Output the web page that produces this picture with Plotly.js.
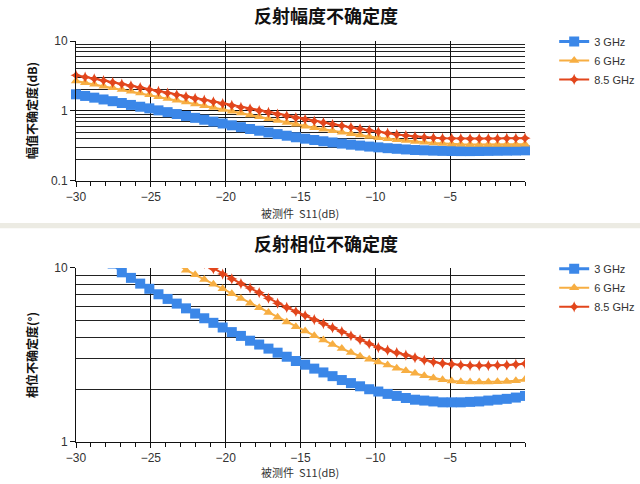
<!DOCTYPE html>
<html>
<head>
<meta charset="utf-8">
<script src="https://cdn.plot.ly/plotly-3.0.1.min.js"></script>
<style>html,body{margin:0;padding:0;background:#fff;}#chart{width:640px;height:484px;}</style>
</head>
<body>
<div id="chart"></div>
<script>
// S11 of the device under test (dB)
const s11 = [-30, -29.39, -28.78, -28.16, -27.55, -26.94, -26.33, -25.71, -25.10, -24.49,
  -23.88, -23.27, -22.65, -22.04, -21.43, -20.82, -20.20, -19.59, -18.98, -18.37,
  -17.76, -17.14, -16.53, -15.92, -15.31, -14.69, -14.08, -13.47, -12.86, -12.24,
  -11.63, -11.02, -10.41, -9.80, -9.18, -8.57, -7.96, -7.35, -6.73, -6.12,
  -5.51, -4.90, -4.29, -3.67, -3.06, -2.45, -1.84, -1.22, -0.61, 0];

const seriesNames = ['3 GHz', '6 GHz', '8.5 GHz'];

// Reflection magnitude uncertainty (dB)
const mag3 = [1.73, 1.64, 1.55, 1.46, 1.38, 1.30, 1.22, 1.15, 1.09, 1.02,
  0.962, 0.904, 0.849, 0.798, 0.750, 0.705, 0.662, 0.624, 0.587, 0.553,
  0.522, 0.493, 0.467, 0.443, 0.421, 0.402, 0.385, 0.369, 0.355, 0.342,
  0.330, 0.320, 0.310, 0.302, 0.294, 0.288, 0.282, 0.277, 0.274, 0.271,
  0.269, 0.268, 0.267, 0.267, 0.268, 0.269, 0.270, 0.271, 0.272, 0.274];
const mag6 = [2.69, 2.54, 2.40, 2.26, 2.14, 2.02, 1.91, 1.80, 1.70, 1.60,
  1.51, 1.42, 1.34, 1.26, 1.19, 1.12, 1.05, 0.993, 0.933, 0.877,
  0.824, 0.774, 0.728, 0.685, 0.646, 0.605, 0.575, 0.547, 0.520, 0.495,
  0.473, 0.452, 0.433, 0.415, 0.401, 0.388, 0.377, 0.366, 0.357, 0.349,
  0.342, 0.337, 0.334, 0.332, 0.331, 0.331, 0.332, 0.333, 0.333, 0.334];
const mag85 = [3.24, 3.06, 2.88, 2.72, 2.56, 2.42, 2.28, 2.15, 2.02, 1.91,
  1.80, 1.70, 1.60, 1.51, 1.43, 1.35, 1.27, 1.20, 1.13, 1.07,
  1.01, 0.953, 0.900, 0.849, 0.802, 0.759, 0.718, 0.681, 0.646, 0.614,
  0.583, 0.555, 0.528, 0.504, 0.481, 0.461, 0.445, 0.432, 0.421, 0.413,
  0.407, 0.405, 0.403, 0.402, 0.402, 0.403, 0.404, 0.406, 0.407, 0.409];

// Reflection phase uncertainty (degrees)
const ph3 = [14.5, 13.3, 12.3, 11.4, 10.6, 9.44, 8.77, 8.13, 7.59, 7.06,
  6.64, 6.24, 5.86, 5.47, 5.14, 4.84, 4.55, 4.28, 4.07, 3.82,
  3.63, 3.44, 3.26, 3.09, 2.92, 2.78, 2.64, 2.51, 2.39, 2.27,
  2.18, 2.09, 2.01, 1.95, 1.89, 1.84, 1.79, 1.75, 1.73, 1.71,
  1.69, 1.69, 1.69, 1.70, 1.71, 1.73, 1.75, 1.77, 1.80, 1.84];
const ph6 = [22.4, 20.9, 19.5, 18.2, 17.0, 15.8, 14.8, 13.8, 12.9, 12.0,
  11.2, 10.5, 9.70, 9.14, 8.59, 8.07, 7.59, 7.11, 6.67, 6.28,
  5.90, 5.55, 5.21, 4.89, 4.60, 4.34, 4.08, 3.85, 3.63, 3.44,
  3.27, 3.11, 2.99, 2.88, 2.77, 2.65, 2.57, 2.48, 2.40, 2.33,
  2.28, 2.24, 2.22, 2.21, 2.21, 2.21, 2.22, 2.23, 2.25, 2.29];
const ph85 = [27.9, 26.0, 24.3, 22.6, 21.1, 19.7, 18.4, 17.2, 16.0, 15.0,
  14.0, 13.0, 12.2, 11.4, 10.6, 9.91, 9.23, 8.65, 8.13, 7.66,
  7.21, 6.70, 6.27, 5.93, 5.62, 5.33, 5.05, 4.79, 4.54, 4.31,
  4.08, 3.87, 3.67, 3.49, 3.37, 3.26, 3.16, 3.05, 2.95, 2.88,
  2.83, 2.80, 2.77, 2.75, 2.75, 2.75, 2.76, 2.77, 2.79, 2.82];

const xTicks = [-30, -25, -20, -15, -10, -5];
const magTicks = [0.1, 1, 10];
const magMinor = [0.2, 0.3, 0.4, 0.5, 0.6, 0.7, 0.8, 0.9, 2, 3, 4, 5, 6, 7, 8, 9];
const phTicks = [1, 10];
const phMinor = [2, 3, 4, 5, 6, 7, 8, 9];

const colors = ['#3b87e8', '#f7ae42', '#e2461c'];
const symbols = ['square', 'triangle-up', 'star-diamond'];
const sizes = [10, 9, 8];

function mk(y, i, xa, ya, leg, clip) {
  return {
    x: s11, y: y, name: seriesNames[i], type: 'scatter', mode: 'lines+markers',
    xaxis: xa, yaxis: ya, legend: leg, cliponaxis: clip,
    line: {color: colors[i], width: i === 0 ? 3 : 2},
    marker: {symbol: symbols[i], size: sizes[i], color: colors[i], line: {width: 0}}
  };
}

const data = [
  mk(mag3, 0, 'x', 'y', 'legend', false),
  mk(mag6, 1, 'x', 'y', 'legend', false),
  mk(mag85, 2, 'x', 'y', 'legend', false),
  mk(ph3, 0, 'x2', 'y2', 'legend2', true),
  mk(ph6, 1, 'x2', 'y2', 'legend2', true),
  mk(ph85, 2, 'x2', 'y2', 'legend2', true)
];

const tickFont = {family: 'Liberation Sans, Arial, sans-serif', size: 12, color: '#333'};

function xax(anchor) {
  return {
    anchor: anchor, domain: [0, 1], range: [-30, 0], tickvals: xTicks,
    showgrid: true, gridcolor: '#111', gridwidth: 1, zeroline: false,
    showline: true, linecolor: '#111', linewidth: 1,
    ticks: 'outside', ticklen: 5, tickcolor: '#111', tickfont: tickFont,
    minor: {dtick: 1, tick0: 0, ticks: 'outside', ticklen: 4, tickcolor: '#111', showgrid: false}
  };
}
function yax(anchor, domain, range, tv, minorTv) {
  return {
    anchor: anchor, domain: domain, type: 'log', range: range,
    tickvals: tv, ticktext: tv.map(String),
    showgrid: true, gridcolor: '#111', gridwidth: 1, zeroline: false,
    showline: true, linecolor: '#111', linewidth: 1,
    ticks: 'outside', ticklen: 5, tickcolor: '#111', tickfont: tickFont,
    minor: {tickvals: minorTv, showgrid: true, gridcolor: '#222', gridwidth: 1, ticks: ''}
  };
}

const titleFont = {family: 'Noto Sans CJK SC, sans-serif', size: 18, color: '#111', weight: 'bold'};
const axTitleFont = {family: 'Noto Sans CJK SC, sans-serif', size: 12, color: '#111', weight: 'bold'};
const xTitleFont = {family: 'Noto Sans CJK SC, sans-serif', size: 11, color: '#333'};

const legendBase = {
  x: 1.065, xanchor: 'left', yanchor: 'top',
  font: {family: 'Liberation Sans, Arial, sans-serif', size: 11, color: '#333'},
  bgcolor: 'rgba(0,0,0,0)', borderwidth: 0, itemwidth: 30, tracegroupgap: 0
};

const layout = {
  width: 640, height: 484,
  margin: {l: 76, r: 115, t: 41, b: 42, autoexpand: false},
  paper_bgcolor: '#fff', plot_bgcolor: '#fff',
  showlegend: true,
  xaxis: xax('y'),
  yaxis: yax('x', [0.651, 1], [-1, 1], magTicks, magMinor),
  xaxis2: xax('y2'),
  yaxis2: yax('x2', [0, 0.434], [0, 1], phTicks, phMinor),
  legend: Object.assign({y: 1.035}, legendBase),
  legend2: Object.assign({y: 0.468}, legendBase),
  shapes: [
    {type: 'rect', xref: 'paper', yref: 'paper', x0: -0.2, x1: 1.26, y0: 0.533, y1: 0.546,
     fillcolor: '#ecebe3', line: {width: 0}, layer: 'below'}
  ],
  annotations: [
    {text: '反射幅度不确定度', xref: 'paper', yref: 'paper', x: 0.557, y: 1.066,
     showarrow: false, font: titleFont, xanchor: 'center', yanchor: 'middle'},
    {text: '反射相位不确定度', xref: 'paper', yref: 'paper', x: 0.557, y: 0.496,
     showarrow: false, font: titleFont, xanchor: 'center', yanchor: 'middle'},
    {text: '幅值不确定度(dB)', xref: 'paper', yref: 'paper', x: -0.098, y: 0.828,
     textangle: -90, showarrow: false, font: axTitleFont, xanchor: 'center', yanchor: 'middle'},
    {text: '相位不确定度(°)', xref: 'paper', yref: 'paper', x: -0.098, y: 0.217,
     textangle: -90, showarrow: false, font: axTitleFont, xanchor: 'center', yanchor: 'middle'},
    {text: '被测件  S11(dB)', xref: 'paper', yref: 'paper', x: 0.499, y: 0.571,
     showarrow: false, font: xTitleFont, xanchor: 'center', yanchor: 'middle'},
    {text: '被测件  S11(dB)', xref: 'paper', yref: 'paper', x: 0.499, y: -0.075,
     showarrow: false, font: xTitleFont, xanchor: 'center', yanchor: 'middle'}
  ]
};

Plotly.newPlot('chart', data, layout, {displayModeBar: false, staticPlot: true});
</script>
</body>
</html>
